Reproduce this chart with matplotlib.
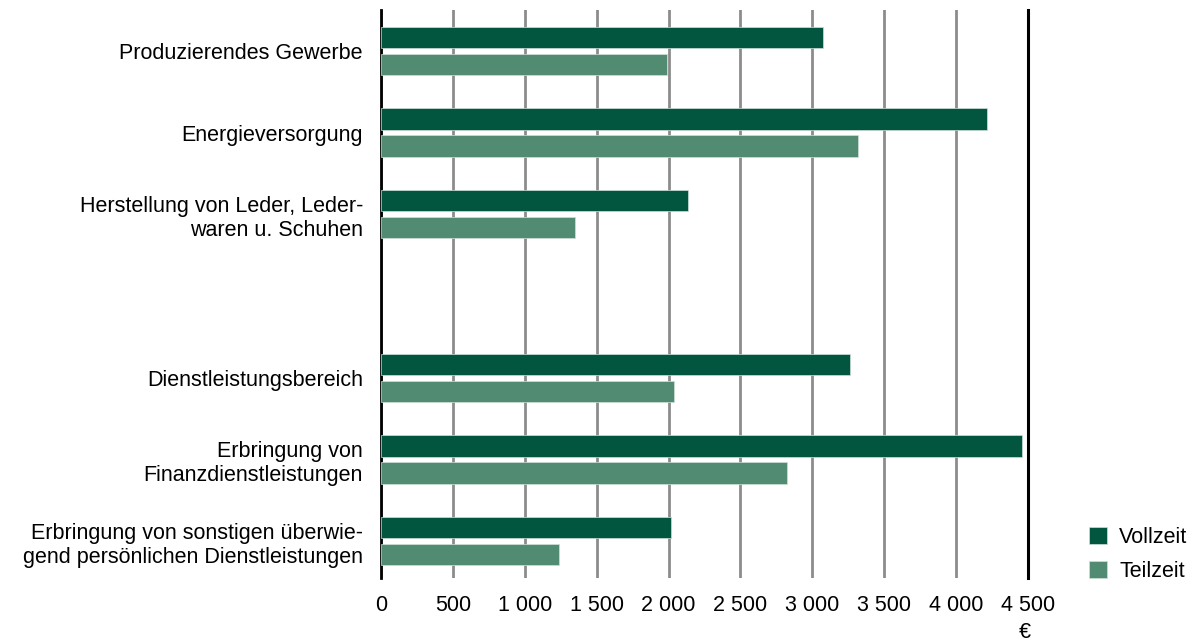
import numpy as np
import matplotlib.pyplot as plt

plt.rcParams['font.family'] = ['Liberation Sans', 'DejaVu Sans']

categories = [
    "Produzierendes Gewerbe",
    "Energieversorgung",
    "Herstellung von Leder, Leder-\nwaren u. Schuhen",
    "",
    "Dienstleistungsbereich",
    "Erbringung von\nFinanzdienstleistungen",
    "Erbringung von sonstigen überwie-\ngend persönlichen Dienstleistungen",
]
vollzeit = [3071, 4215, 2132, np.nan, 3265, 4456, 2015]
teilzeit = [1988, 3318, 1347, np.nan, 2041, 2826, 1238]
xticks = [0, 500, 1000, 1500, 2000, 2500, 3000, 3500, 4000, 4500]
xtick_labels = ["0", "500", "1 000", "1 500", "2 000", "2 500", "3 000", "3 500", "4 000", "4 500"]

dark = "#02553f"
light = "#508b72"
fs = 15.5

fig = plt.figure(figsize=(11.95, 6.41), dpi=100)
ax = fig.add_axes([0.3188, 0.0983, 0.5415, 0.8861])

y = np.arange(len(categories))
h = 0.26
off = 0.165
ax.barh(y - off, vollzeit, height=h, color=dark, edgecolor="#cfe0d8", linewidth=0.5, label="Vollzeit", zorder=3)
ax.barh(y + off, teilzeit, height=h, color=light, edgecolor="#cfe0d8", linewidth=0.5, label="Teilzeit", zorder=3)

ax.set_xlim(0, 4500)
ax.set_ylim(6.45, -0.5)
ax.set_xticks(xticks)
ax.set_xticklabels(xtick_labels, fontsize=fs)
ax.set_yticks(y)
ax.set_yticklabels(categories, fontsize=fs, ha="right", linespacing=1.2)
ax.tick_params(axis="both", length=0)
ax.tick_params(axis="x", pad=12)
ax.tick_params(axis="y", pad=13)

ax.grid(axis="x", color="#8c8c8c", linewidth=2, zorder=0)
ax.set_axisbelow(True)
for s in ["top", "bottom"]:
    ax.spines[s].set_visible(False)
ax.spines["left"].set_linewidth(2)
ax.spines["right"].set_linewidth(2.2)
ax.spines["left"].set_color("black")
ax.spines["right"].set_color("black")

ax.text(0.995, -0.078, "€", transform=ax.transAxes, fontsize=fs, ha="center", va="top")

ax.legend(loc="lower left", bbox_to_anchor=(1.071, -0.034), frameon=False, fontsize=fs,
          handlelength=0.84, handleheight=0.84, labelspacing=0.6, handletextpad=0.56,
          borderaxespad=0.3)

plt.savefig("out.png", dpi=100)
